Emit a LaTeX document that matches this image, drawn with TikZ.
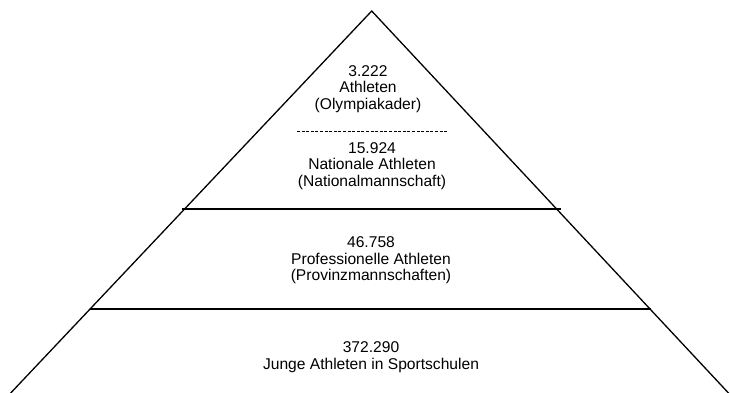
\documentclass[tikz,border=0pt]{standalone}
\usepackage{fontspec}
\setmainfont{Liberation Sans}
\begin{document}
\begin{tikzpicture}[x=1pt,y=-1pt,
  edge/.style={line width=1.3pt,black},
  tier/.style={line width=1.3pt,black},
  divider/.style={line width=1pt,black,dash pattern=on 3pt off 1.6pt},
  label/.style={align=center,inner sep=0pt,font=\fontsize{15.6}{16.6}\selectfont}]
  \useasboundingbox (0,0) rectangle (730,393);
  \clip (0,0) rectangle (730,393);
  \fill[white] (0,0) rectangle (730,393);
  % apex and the points where the sides leave the page
  \coordinate (apex) at (371.7,11);
  \coordinate (bl) at (4.1,400);
  \coordinate (br) at (735,400);
  \draw[edge] (bl) -- (apex) -- (br);
  % tier boundaries
  \coordinate (t1l) at (182,209);
  \coordinate (t1r) at (561,209);
  \coordinate (t2l) at (90,309);
  \coordinate (t2r) at (651,309);
  \draw[tier] (t1l) -- (t1r);
  \draw[tier] (t2l) -- (t2r);
  \coordinate (dl) at (297,131);
  \coordinate (dr) at (447,131);
  \draw[divider] (dl) -- (dr);
  % tier labels
  \node[label] (olymp) at (368,89) {3.222\\Athleten\\(Olympiakader)};
  \node[label] (national) at (372,166) {15.924\\Nationale Athleten\\(Nationalmannschaft)};
  \node[label] (prov) at (371,260.5) {46.758\\Professionelle Athleten\\(Provinzmannschaften)};
  \node[label] (schule) at (371,357) {372.290\\Junge Athleten in Sportschulen};
\end{tikzpicture}
\end{document}
